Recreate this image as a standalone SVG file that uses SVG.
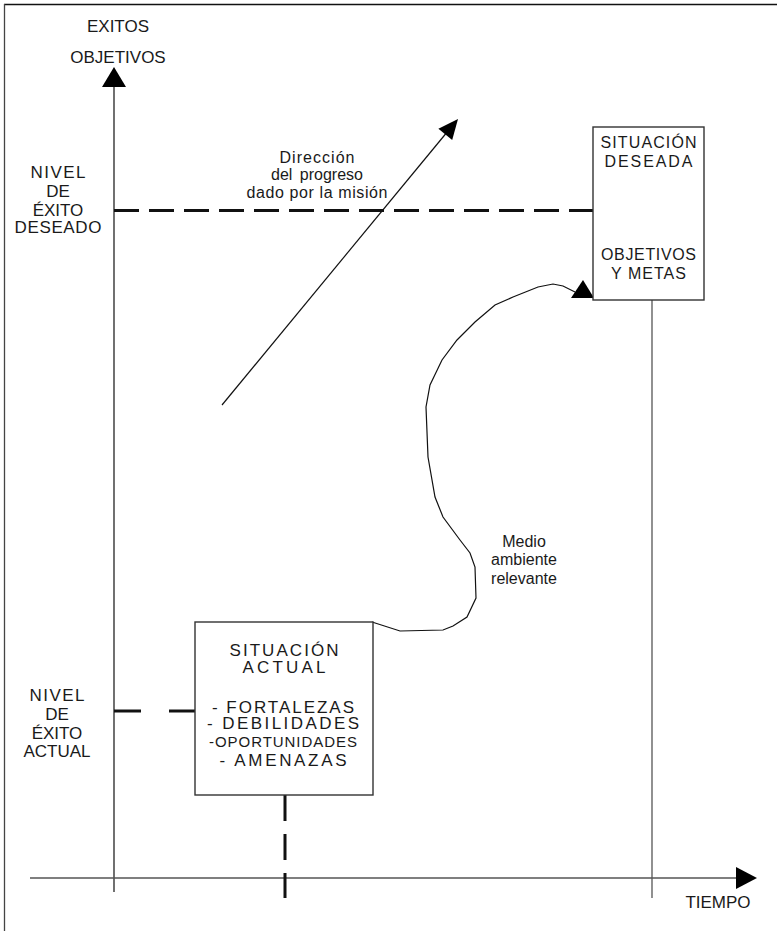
<svg xmlns="http://www.w3.org/2000/svg" width="777" height="931" viewBox="0 0 777 931">
  <style>
    text { font-family: "Liberation Sans", Arial, sans-serif; fill: #1a1a1a; text-anchor: middle; }
    .lbl { font-size: 17px; }
    .note { font-size: 16px; }
    .box { fill: #ffffff; stroke: #333333; stroke-width: 1.4; }
    .axis { fill: none; stroke: #555555; stroke-width: 1.3; }
    .dash { fill: none; stroke: #111111; stroke-width: 3; }
    .thin { fill: none; stroke: #111111; stroke-width: 1.2; }
    .head { fill: #000000; stroke: none; }
  </style>

  <!-- frame (top and left edges only) -->
  <g id="frame">
    <line x1="4" y1="4.5" x2="777" y2="4.5" stroke="#111111" stroke-width="1.5"/>
    <line x1="4.5" y1="4" x2="4.5" y2="931" stroke="#444444" stroke-width="1.3"/>
  </g>

  <g id="connectors">
    <!-- vertical axis: exitos / objetivos -->
    <line class="thin" x1="114" y1="85" x2="114" y2="892"/>
    <polygon class="head" points="114,67 102,87 126,87"/>
    <!-- horizontal axis: tiempo -->
    <line class="axis" x1="30" y1="878" x2="738" y2="878"/>
    <polygon class="head" points="736,867 757,878 736,889"/>
    <!-- time mark below the desired situation -->
    <line class="axis" x1="652" y1="300" x2="652" y2="898"/>
    <!-- desired success level -->
    <line class="dash" x1="114" y1="210.5" x2="593" y2="210.5" stroke-dasharray="25 10"/>
    <!-- current success level -->
    <line class="dash" x1="114" y1="711" x2="141" y2="711"/>
    <line class="dash" x1="169" y1="711" x2="195" y2="711"/>
    <!-- current time mark -->
    <line class="dash" x1="285" y1="795" x2="285" y2="898" stroke-dasharray="26 13"/>
    <!-- direction of progress -->
    <line class="thin" x1="222" y1="405" x2="448" y2="131"/>
    <polygon class="head" points="458,119 438.4,128.7 452.2,140.1"/>
    <!-- path through the relevant environment -->
    <polyline class="thin" points="372,622 400,631 443,630 453,626 467,617 476,598 475,567 470,553 460,540 443,517 435,497 428,457 426,407 430,385 442,360 457,340 475,322 495,305 513,297 538,287 553,284 563,286 575,292"/>
    <polygon class="head" points="583,280 571,298 594,298"/>
  </g>

  <g id="axis-y-label">
    <text class="lbl" x="118" y="32">EXITOS</text>
    <text class="lbl" x="118" y="63">OBJETIVOS</text>
  </g>

  <g id="level-desired">
    <text class="lbl" x="58" y="178" textLength="55" lengthAdjust="spacing">NIVEL</text>
    <text class="lbl" x="58" y="197">DE</text>
    <text class="lbl" x="58" y="216">ÉXITO</text>
    <text class="lbl" x="58" y="233" textLength="87" lengthAdjust="spacing">DESEADO</text>
  </g>

  <g id="level-current">
    <text class="lbl" x="57" y="701" textLength="55" lengthAdjust="spacing">NIVEL</text>
    <text class="lbl" x="57" y="720">DE</text>
    <text class="lbl" x="57" y="739">ÉXITO</text>
    <text class="lbl" x="57" y="757">ACTUAL</text>
  </g>

  <g id="mission-direction">
    <text class="note" x="317" y="163" textLength="75" lengthAdjust="spacing">Dirección</text>
    <text class="note" x="317" y="180" word-spacing="3">del progreso</text>
    <text class="note" x="317" y="198" textLength="141" lengthAdjust="spacing">dado por la misión</text>
  </g>

  <g id="environment">
    <text class="note" x="524" y="547">Medio</text>
    <text class="note" x="524" y="565">ambiente</text>
    <text class="note" x="524" y="584">relevante</text>
  </g>

  <g id="axis-x-label">
    <text class="lbl" x="718" y="908">TIEMPO</text>
  </g>

  <g id="desired-situation">
    <rect class="box" x="593" y="127" width="111" height="173"/>
    <text class="note" x="648.5" y="148" textLength="96" lengthAdjust="spacing">SITUACIÓN</text>
    <text class="note" x="648.5" y="167" textLength="88" lengthAdjust="spacing">DESEADA</text>
    <text class="note" x="648.5" y="260" textLength="95" lengthAdjust="spacing">OBJETIVOS</text>
    <text class="note" x="648.5" y="279" textLength="75" lengthAdjust="spacing">Y METAS</text>
  </g>

  <g id="current-situation">
    <rect class="box" x="195" y="622" width="178" height="173"/>
    <text class="lbl" x="284" y="656" textLength="109" lengthAdjust="spacing">SITUACIÓN</text>
    <text class="lbl" x="284" y="673" textLength="83" lengthAdjust="spacing">ACTUAL</text>
    <text class="lbl" x="283" y="713" textLength="142" lengthAdjust="spacing">- FORTALEZAS</text>
    <text class="lbl" x="283" y="729" textLength="152" lengthAdjust="spacing">- DEBILIDADES</text>
    <text x="283" y="747" font-size="15" textLength="148" lengthAdjust="spacing">-OPORTUNIDADES</text>
    <text class="lbl" x="283" y="766" textLength="127" lengthAdjust="spacing">- AMENAZAS</text>
  </g>
</svg>
